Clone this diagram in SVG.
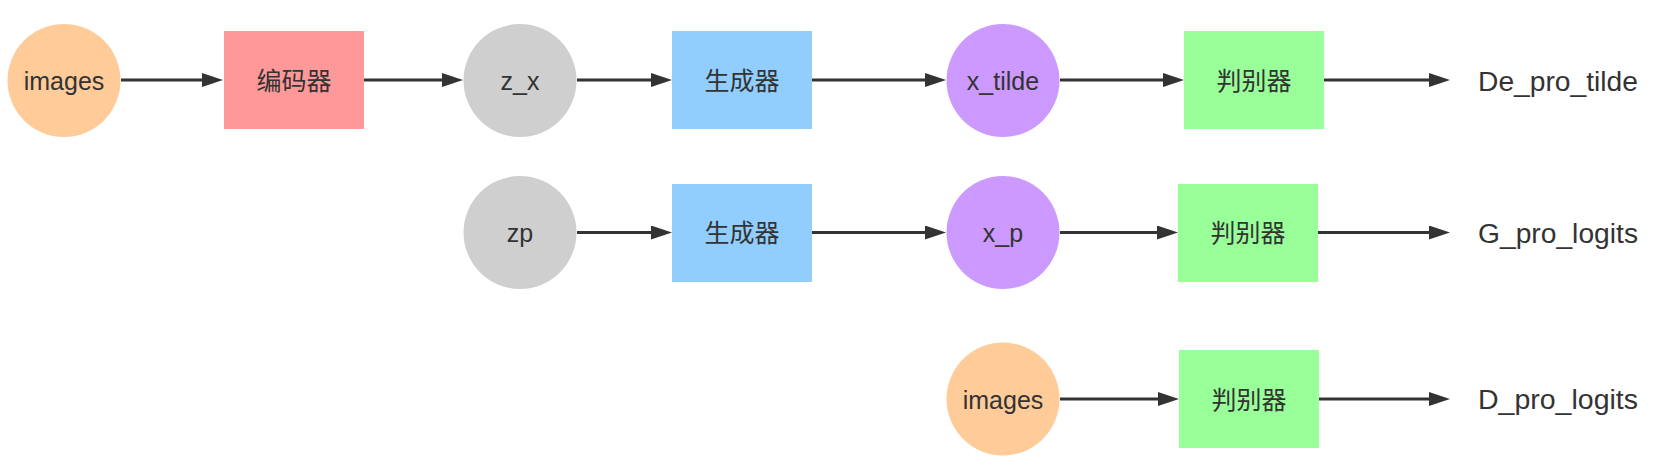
<svg xmlns="http://www.w3.org/2000/svg" width="1658" height="476" viewBox="0 0 1658 476">
<style>
.lbl{font-family:"Liberation Sans","Noto Sans CJK SC",sans-serif;font-size:25px;fill:#333;text-anchor:middle}
.out{font-family:"Liberation Sans",sans-serif;font-size:27px;fill:#333}
.edge{stroke:#333;stroke-width:3;fill:none;marker-end:url(#arr)}
.orange{fill:#FFCC99}.pink{fill:#FF9999}.gray{fill:#CFCFCF}.blue{fill:#91CDFD}.purple{fill:#CC99FF}.green{fill:#99FF99}
</style>
<defs>
<marker id="arr" markerUnits="userSpaceOnUse" markerWidth="21" markerHeight="14" viewBox="0 0 21 14" refX="11" refY="7" orient="auto">
<path d="M0,0 L21,7 L0,14 z" fill="#333"/>
</marker>
</defs>
<rect width="1658" height="476" fill="#fff"/>
<g id="n-images1"><circle class="orange" cx="64" cy="80.5" r="56.5"/><text class="lbl" x="64" y="90">images</text></g>
<g id="n-encoder"><rect class="pink" x="224" y="31" width="140" height="98"/><text class="lbl" x="294" y="90">编码器</text></g>
<g id="n-zx"><circle class="gray" cx="520" cy="80.5" r="56.5"/><text class="lbl" x="520" y="90">z_x</text></g>
<g id="n-gen1"><rect class="blue" x="672" y="31" width="140" height="98"/><text class="lbl" x="742" y="90">生成器</text></g>
<g id="n-xtilde"><circle class="purple" cx="1003" cy="80.5" r="56.5"/><text class="lbl" x="1003" y="90">x_tilde</text></g>
<g id="n-disc1"><rect class="green" x="1184" y="31" width="140" height="98"/><text class="lbl" x="1254" y="90">判别器</text></g>
<g id="n-out1"><text class="out" x="1478" y="90.5" textLength="160" lengthAdjust="spacingAndGlyphs">De_pro_tilde</text></g>

<g id="n-zp"><circle class="gray" cx="520" cy="232.5" r="56.5"/><text class="lbl" x="520" y="242">zp</text></g>
<g id="n-gen2"><rect class="blue" x="672" y="184" width="140" height="98"/><text class="lbl" x="742" y="242">生成器</text></g>
<g id="n-xp"><circle class="purple" cx="1003" cy="232.5" r="56.5"/><text class="lbl" x="1003" y="242">x_p</text></g>
<g id="n-disc2"><rect class="green" x="1178" y="184" width="140" height="98"/><text class="lbl" x="1248" y="242">判别器</text></g>
<g id="n-out2"><text class="out" x="1478" y="242.5" textLength="160" lengthAdjust="spacingAndGlyphs">G_pro_logits</text></g>

<g id="n-images2"><circle class="orange" cx="1003" cy="399" r="56.5"/><text class="lbl" x="1003" y="408.5">images</text></g>
<g id="n-disc3"><rect class="green" x="1179" y="350" width="140" height="98"/><text class="lbl" x="1249" y="408.5">判别器</text></g>
<g id="n-out3"><text class="out" x="1478" y="408.5" textLength="160" lengthAdjust="spacingAndGlyphs">D_pro_logits</text></g>

<g id="connectors">
<line class="edge" x1="121" y1="80" x2="213" y2="80"/>
<line class="edge" x1="364" y1="80" x2="453" y2="80"/>
<line class="edge" x1="577" y1="80" x2="662" y2="80"/>
<line class="edge" x1="812" y1="80" x2="936" y2="80"/>
<line class="edge" x1="1060" y1="80" x2="1174" y2="80"/>
<line class="edge" x1="1324" y1="80" x2="1440" y2="80"/>
<line class="edge" x1="577" y1="232.5" x2="662" y2="232.5"/>
<line class="edge" x1="812" y1="232.5" x2="936" y2="232.5"/>
<line class="edge" x1="1060" y1="232.5" x2="1168" y2="232.5"/>
<line class="edge" x1="1318" y1="232.5" x2="1440" y2="232.5"/>
<line class="edge" x1="1060" y1="399" x2="1169" y2="399"/>
<line class="edge" x1="1319" y1="399" x2="1440" y2="399"/>
</g>
</svg>
